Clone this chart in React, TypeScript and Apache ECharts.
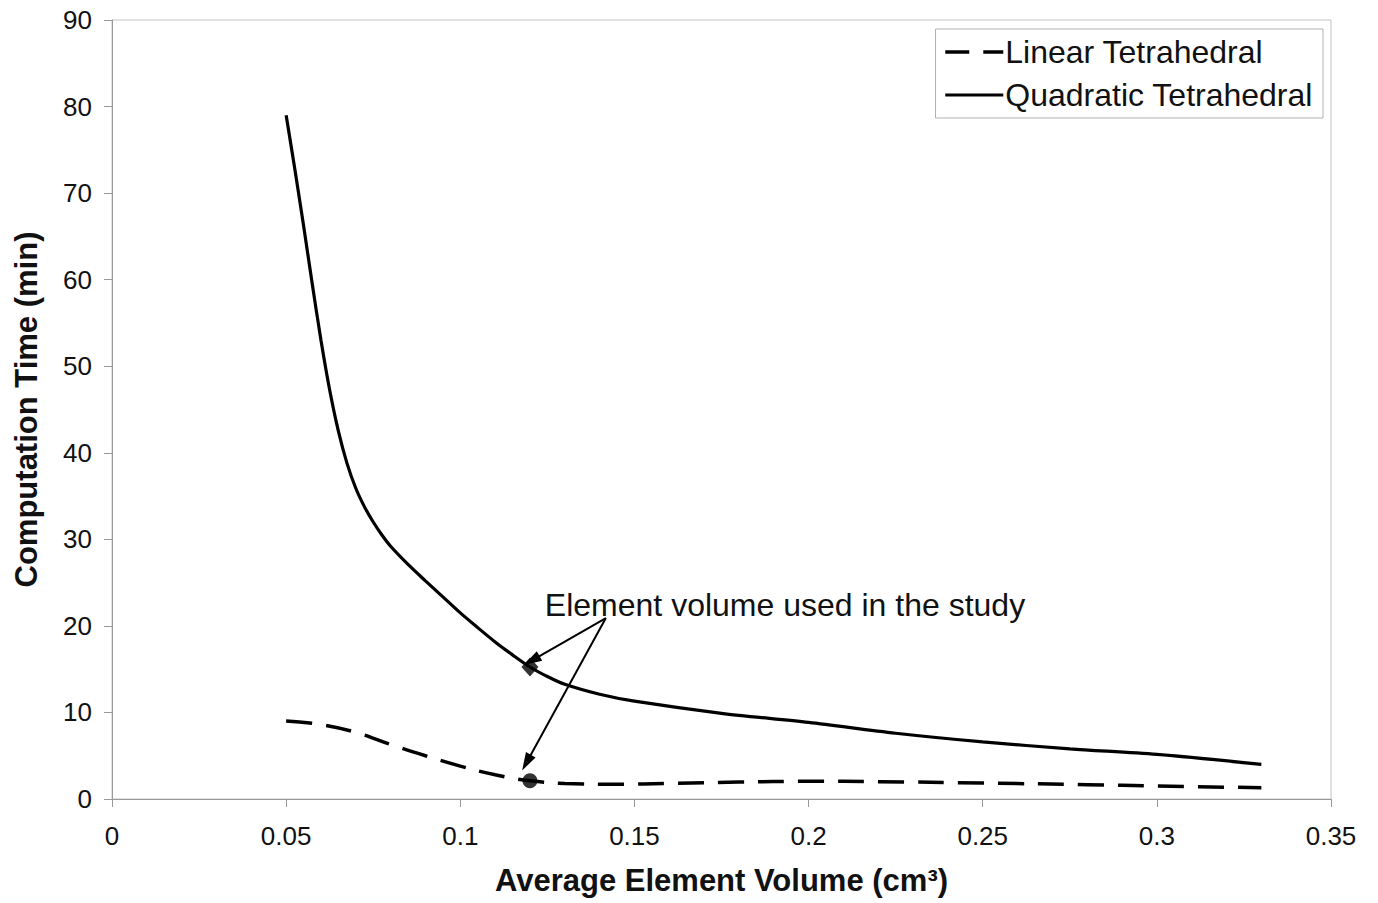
import React, { useEffect, useRef } from "react";
import * as echarts from "echarts";

const linearName = "Linear Tetrahedral";
const quadName = "Quadratic Tetrahedral";

const linearX = [0.05, 0.06, 0.07, 0.08, 0.09, 0.1, 0.11, 0.12, 0.13, 0.145, 0.16, 0.18, 0.2, 0.22, 0.25, 0.28, 0.3, 0.33];
const linearY = [9.0, 8.6, 7.7, 6.3, 5.0, 3.8, 2.8, 2.1, 1.8, 1.7, 1.8, 1.95, 2.05, 2.0, 1.85, 1.65, 1.5, 1.3];

const quadX = [0.05, 0.0525, 0.055, 0.0575, 0.06, 0.0625, 0.065, 0.0675, 0.07, 0.0725, 0.075, 0.0775, 0.08, 0.085, 0.09, 0.095, 0.1, 0.105, 0.11, 0.115, 0.12, 0.125, 0.13, 0.14, 0.15, 0.175, 0.2, 0.225, 0.25, 0.275, 0.3, 0.33];
const quadY = [79, 72.75, 66.25, 59.5, 53.0, 47.25, 42.5, 38.75, 35.9, 33.75, 32.0, 30.5, 29.2, 27.1, 25.2, 23.35, 21.5, 19.8, 18.15, 16.65, 15.25, 14.15, 13.25, 12.1, 11.3, 9.9, 8.85, 7.6, 6.6, 5.8, 5.15, 4.0];

const studyX = 0.12;
const studyLinearY = 2.1;
const studyQuadY = 15.25;

const annotationText = "Element volume used in the study";
const arrowStart = [0.1418, 20.9];
const arrowEndQuad = [0.1205, 16.0];
const arrowEndLinear = [0.119, 4.2];

const xMin = 0, xMax = 0.35, xStep = 0.05;
const yMin = 0, yMax = 90, yStep = 10;

const xTitle = "Average Element Volume (cm³)";
const yTitle = "Computation Time (min)";

const FONT = "'Liberation Sans', Arial, sans-serif";

export default function App() {
  const ref = useRef<HTMLDivElement>(null);
  useEffect(() => {
    if (!ref.current) return;
    const chart = echarts.init(ref.current, undefined, { renderer: "svg" });
    const zip = (xs: number[], ys: number[]) => xs.map((x, i) => [x, ys[i]]);
    chart.setOption({
      animation: false,
      backgroundColor: "#fff",
      textStyle: { fontFamily: FONT },
      grid: {
        left: 112, right: 47, top: 20, bottom: 104,
        show: true, borderColor: "#c4c4c4", borderWidth: 1, backgroundColor: "transparent",
      },
      legend: {
        data: [
          { name: linearName, itemStyle: { opacity: 0 }, lineStyle: { type: [24, 14], width: 3.5, color: "#000" } },
          { name: quadName, itemStyle: { opacity: 0 }, lineStyle: { type: "solid", width: 3, color: "#000" } },
        ],
        orient: "vertical",
        right: 55,
        top: 29,
        itemWidth: 58,
        itemHeight: 14,
        itemGap: 11,
        padding: [7, 10, 7, 8],
        borderColor: "#b0b0b0",
        borderWidth: 1,
        borderRadius: 0,
        selectedMode: false,
        itemStyle: { opacity: 0 },
        textStyle: { fontSize: 32, color: "#111", fontFamily: FONT, padding: [0, 0, 0, -3] },
      },
      xAxis: {
        type: "value",
        min: xMin, max: xMax, interval: xStep,
        name: xTitle,
        nameLocation: "middle",
        nameGap: 66,
        nameTextStyle: { fontSize: 31, fontWeight: "bold", color: "#111", fontFamily: FONT },
        axisLine: { show: true, lineStyle: { color: "#999", width: 1 } },
        axisTick: { show: true, length: 8, lineStyle: { color: "#999" } },
        axisLabel: { fontSize: 26, color: "#111", margin: 24, fontFamily: FONT },
        splitLine: { show: false },
      },
      yAxis: {
        type: "value",
        min: yMin, max: yMax, interval: yStep,
        name: yTitle,
        nameLocation: "middle",
        nameGap: 70,
        nameTextStyle: { fontSize: 31, fontWeight: "bold", color: "#111", fontFamily: FONT },
        axisLine: { show: true, lineStyle: { color: "#999", width: 1 } },
        axisTick: { show: true, length: 8, lineStyle: { color: "#999" } },
        axisLabel: { fontSize: 26, color: "#111", margin: 20, fontFamily: FONT },
        splitLine: { show: false },
      },
      series: [
        {
          name: linearName,
          type: "line",
          data: zip(linearX, linearY),
          smooth: 0.4,
          symbol: "none",
          lineStyle: { color: "#000", width: 3.5, type: [26, 14], cap: "butt" },
          itemStyle: { color: "#000" },
          silent: true,
        },
        {
          name: quadName,
          type: "line",
          data: zip(quadX, quadY),
          smooth: 0.3,
          symbol: "none",
          lineStyle: { color: "#000", width: 3.2 },
          itemStyle: { color: "#000" },
          silent: true,
        },
        {
          name: "linear-study",
          type: "scatter",
          data: [[studyX, studyLinearY]],
          symbol: "circle",
          symbolSize: 15,
          itemStyle: { color: "#000" },
          silent: true,
          z: 5,
        },
        {
          name: "quad-study",
          type: "scatter",
          data: [[studyX, studyQuadY]],
          symbol: "diamond",
          symbolSize: [17, 19],
          itemStyle: { color: "#000" },
          silent: true,
          z: 5,
          markLine: {
            silent: true,
            symbol: ["none", "triangle"],
            symbolSize: [11, 18],
            label: { show: false },
            lineStyle: { color: "#000", width: 2, type: "solid" },
            emphasis: { disabled: true },
            data: [
              [{ coord: arrowStart }, { coord: arrowEndQuad }],
              [{ coord: arrowStart }, { coord: arrowEndLinear }],
            ],
          },
          markPoint: {
            silent: true,
            symbol: "circle",
            symbolSize: 0,
            data: [
              {
                coord: arrowStart,
                label: {
                  show: true,
                  formatter: annotationText,
                  position: "right",
                  offset: [-66, -13],
                  fontSize: 32,
                  color: "#111",
                  fontFamily: FONT,
                },
              },
            ],
          },
        },
      ],
    });
    return () => chart.dispose();
  }, []);
  return (
    <div
      ref={ref}
      style={{ position: "absolute", left: 0, top: 0, width: 1378, height: 903, background: "#fff" }}
    />
  );
}
